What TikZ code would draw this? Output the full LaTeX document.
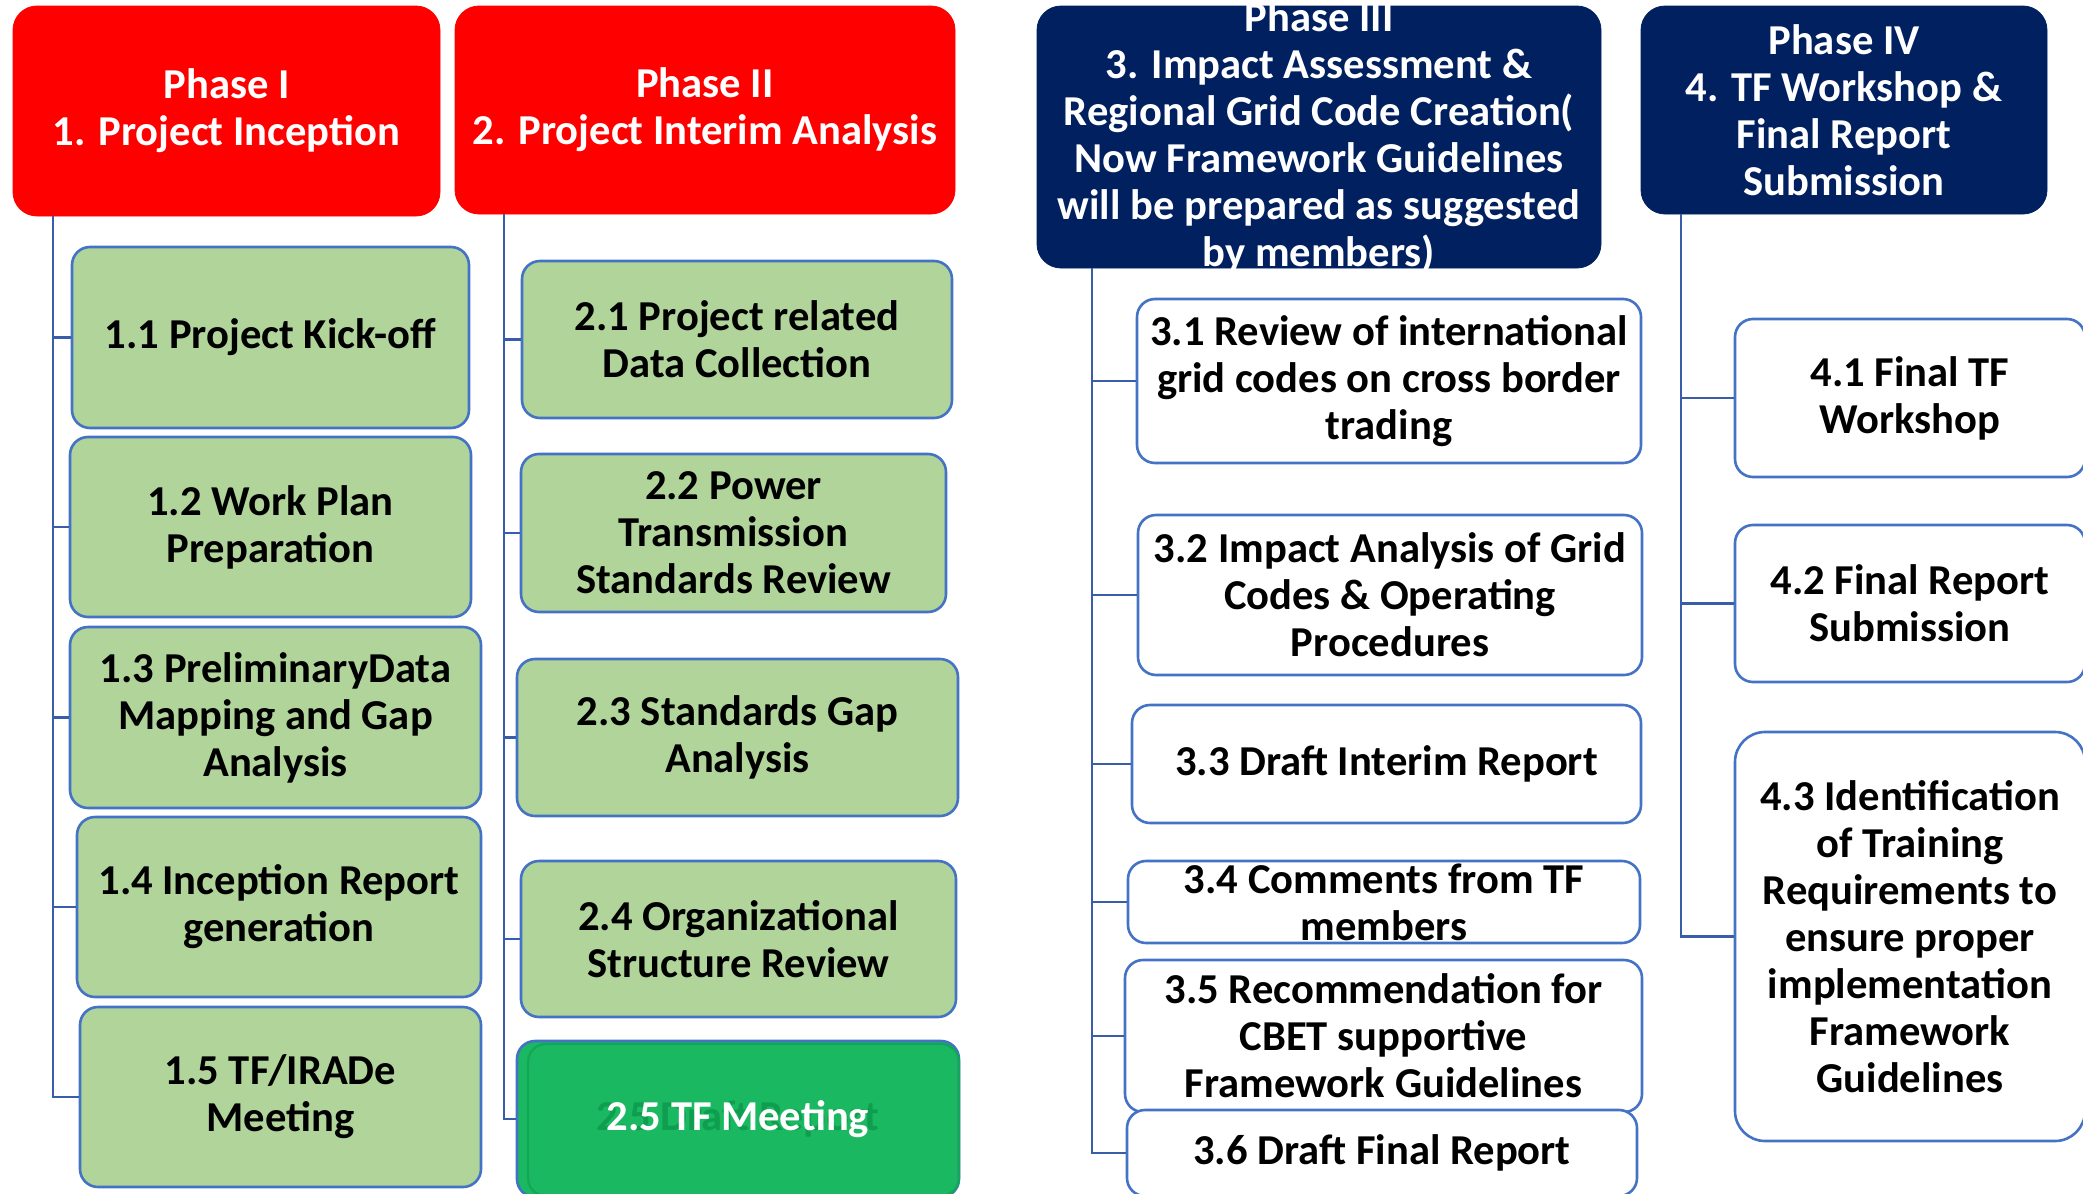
\documentclass[tikz,border=0pt]{standalone}
\usepackage{fontspec}
\setmainfont{Carlito}
\definecolor{hdrred}{HTML}{FF0000}
\definecolor{navy}{HTML}{002060}
\definecolor{boxblue}{HTML}{4472C4}
\definecolor{linkblue}{HTML}{3A5DAA}
\definecolor{lgreen}{HTML}{B0D49A}
\definecolor{dgreen}{HTML}{1BB862}
\definecolor{ghost}{HTML}{0F9E4F}
\definecolor{ghostline}{HTML}{14A657}
\begin{document}
\begin{tikzpicture}[x=0.5pt,y=-0.5pt,
  txt/.style={font=\bfseries\fontsize{21.3}{23.5}\selectfont, align=center, inner sep=0pt},
  hdr/.style={txt, rounded corners=12pt, fill=#1, draw=#1, text=white},
  gbox/.style={txt, rounded corners=9pt, fill=lgreen, draw=boxblue, line width=1.3pt},
  wbox/.style={txt, rounded corners=9pt, fill=white, draw=boxblue, line width=1.3pt},
  link/.style={draw=linkblue, line width=1.4pt}]
\useasboundingbox (0,0) rectangle (2083,1194);
\clip (0,0) rectangle (2083,1194);
\fill[white] (0,0) rectangle (2083,1194);

% Headers
\node[hdr=hdrred, minimum width=213.5pt, minimum height=105pt] (p1) at (226.5,111) {Phase I\\1. Project Inception};
\node[hdr=hdrred, minimum width=250pt, minimum height=104pt] (p2) at (705,110) {Phase II\\2. Project Interim Analysis};
\node[hdr=navy, minimum width=282pt, minimum height=131pt] (p3) at (1319,137) {};
\node[txt, text=white] (p3t) at (p3.center) {Phase III\\3. Impact Assessment \&\\Regional Grid Code Creation(\\Now Framework Guidelines\\will be prepared as suggested\\by members)};
\node[hdr=navy, minimum width=203pt, minimum height=104pt] (p4) at (1844,110) {Phase IV\\4. TF Workshop \&\\Final Report\\Submission};

% Trunk starts
\coordinate (t1) at (53,216);
\coordinate (t2) at (504,214);
\coordinate (t3) at (1092,268);
\coordinate (t4) at (1681,214);

% Column 1
\node[gbox, minimum width=198.5pt, minimum height=90.5pt] (n11) at (270.5,337.5) {1.1 Project Kick-off};
\node[gbox, minimum width=200.5pt, minimum height=90pt] (n12) at (270.5,527) {1.2 Work Plan\\Preparation};
\node[gbox, minimum width=205.5pt, minimum height=90.5pt] (n13) at (275.5,717.5) {1.3 PreliminaryData\\Mapping and Gap\\Analysis};
\node[gbox, minimum width=202pt, minimum height=90pt] (n14) at (279,907) {1.4 Inception Report\\generation};
\node[gbox, minimum width=200.5pt, minimum height=90pt] (n15) at (280.5,1097) {1.5 TF/IRADe\\Meeting};

% Column 2
\node[gbox, minimum width=215pt, minimum height=78.5pt] (n21) at (737,339.5) {2.1 Project related\\Data Collection};
\node[gbox, minimum width=212.5pt, minimum height=79pt] (n22) at (733.5,533) {2.2 Power\\Transmission\\Standards Review};
\node[gbox, minimum width=220.5pt, minimum height=78.5pt] (n23) at (737.5,737.5) {2.3 Standards Gap\\Analysis};
\node[gbox, minimum width=217.5pt, minimum height=78pt] (n24) at (738.5,939) {2.4 Organizational\\Structure Review};
\node[gbox, fill=dgreen, minimum width=221pt, minimum height=78pt] (n25) at (738,1119) {};
\node[txt, rounded corners=9pt, draw=ghostline, line width=1.1pt, minimum width=215.5pt, minimum height=76pt] (n25b) at (743.5,1120) {};
\node[txt, text=ghost] (g25) at (n25.center) {2.5 Draft Report};
\node[txt, text=white] (t25) at (n25.center) {2.5 TF Meeting};

% Column 3
\node[wbox, minimum width=252pt, minimum height=82pt] (n31) at (1389,381) {3.1 Review of international\\grid codes on cross border\\trading};
\node[wbox, minimum width=252pt, minimum height=80pt] (n32) at (1390,595) {3.2 Impact Analysis of Grid\\Codes \& Operating\\Procedures};
\node[wbox, minimum width=254.5pt, minimum height=59pt] (n33) at (1386.5,764) {3.3 Draft Interim Report};
\node[wbox, minimum width=256pt, minimum height=41pt] (n34) at (1384,902) {};
\node[txt] (n34t) at (n34.center) {3.4 Comments from TF\\members};
\node[wbox, minimum width=258.5pt, minimum height=76pt] (n35) at (1383.5,1036) {3.5 Recommendation for\\CBET supportive\\Framework Guidelines};
\node[wbox, minimum width=255pt, minimum height=43pt] (n36) at (1382,1153) {3.6 Draft Final Report};

% Column 4
\node[wbox, minimum width=175pt, minimum height=79pt] (n41) at (1910,398) {4.1 Final TF\\Workshop};
\node[wbox, minimum width=175pt, minimum height=78.5pt] (n42) at (1910,603.5) {4.2 Final Report\\Submission};
\node[wbox, rounded corners=15pt, minimum width=175pt, minimum height=204.5pt] (n43) at (1910,936.5) {4.3 Identification\\of Training\\Requirements to\\ensure proper\\implementation\\Framework\\Guidelines};

% Connectors
\draw[link] (t1) |- (n15.west);
\foreach \n in {n11,n12,n13,n14} \draw[link] (\n.west -| t1) -- (\n.west);
\draw[link] (t2) |- (n25.west);
\foreach \n in {n21,n22,n23,n24} \draw[link] (\n.west -| t2) -- (\n.west);
\draw[link] (t3) |- (n36.west);
\foreach \n in {n31,n32,n33,n34,n35} \draw[link] (\n.west -| t3) -- (\n.west);
\draw[link] (t4) |- (n43.west);
\foreach \n in {n41,n42} \draw[link] (\n.west -| t4) -- (\n.west);
\end{tikzpicture}
\end{document}
